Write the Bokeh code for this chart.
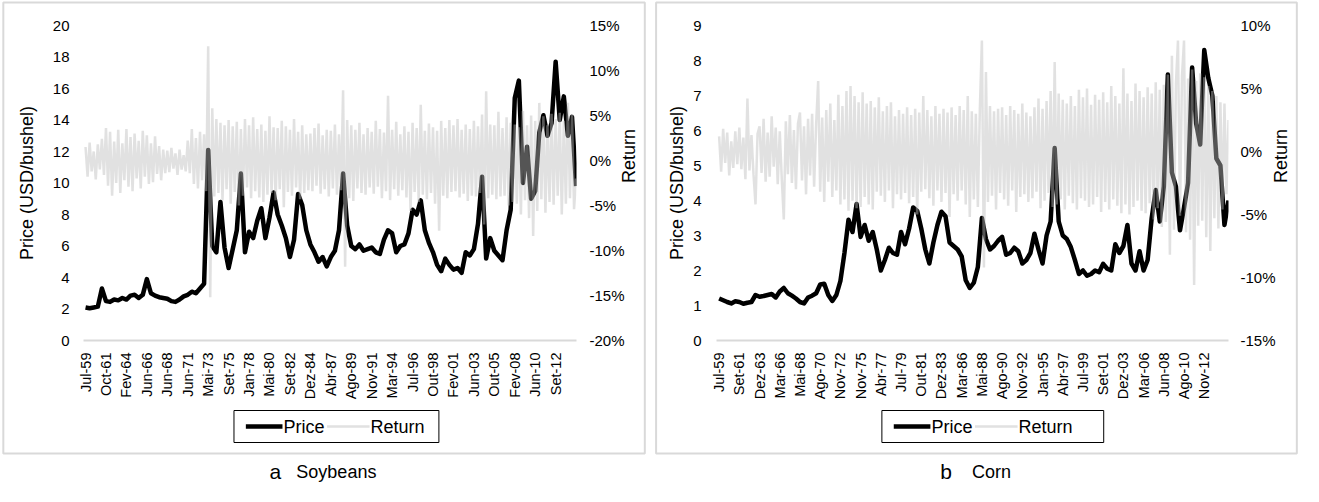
import numpy as np
from bokeh.plotting import figure
from bokeh.models import Range1d, LinearAxis, FixedTicker
from bokeh.core.properties import value
from bokeh.layouts import row
from bokeh.embed import file_html
from bokeh.resources import INLINE

FONT = "Liberation Sans"

# ---------------- data ----------------
soy_labels = ["Jul-59", "Oct-61", "Fev-64", "Jun-66", "Jun-68", "Jun-71", "Mai-73",
              "Set-75", "Jan-78", "Mai-80", "Set-82", "Dez-84", "Abr-87", "Ago-89",
              "Nov-91", "Mar-94", "Jul-96", "Out-98", "Fev-01", "Jun-03", "Out-05",
              "Fev-08", "Jun-10", "Set-12"]
corn_labels = ["Jul-59", "Set-61", "Dez-63", "Mar-66", "Mai-68", "Ago-70", "Nov-72",
               "Nov-75", "Abr-77", "Jul-79", "Out-81", "Dez-83", "Mar-86", "Mai-88",
               "Ago-90", "Nov-92", "Jan-95", "Abr-97", "Jul-99", "Set-01", "Dez-03",
               "Mar-06", "Jun-08", "Ago-10", "Nov-12"]

# price, USD/bushel (5 readings per label interval)
soy_price = [
    2.1, 2.05, 2.1, 2.15, 3.3,
    2.5, 2.45, 2.6, 2.55, 2.7,
    2.6, 2.85, 2.9, 2.7, 2.9,
    3.9, 3.0, 2.85, 2.75, 2.7,
    2.65, 2.5, 2.45, 2.6, 2.8,
    2.9, 3.1, 3.0, 3.3, 3.6,
    12.1, 6.0, 5.6, 8.8, 5.9,
    4.6, 5.8, 7.0, 10.6, 5.6,
    6.9, 6.5, 7.6, 8.4, 6.5,
    7.8, 9.4, 8.0, 7.3, 6.5,
    5.3, 6.4, 9.3, 8.6, 7.0,
    6.1, 5.6, 5.0, 5.3, 4.7,
    5.3, 5.7, 7.0, 10.6, 7.3,
    6.0, 5.8, 6.1, 5.7, 5.8,
    5.9, 5.6, 5.5, 6.4, 7.0,
    6.8, 5.6, 6.0, 6.1, 6.8,
    8.3, 8.0, 8.9, 7.0, 6.2,
    5.6, 4.8, 4.4, 5.2, 4.8,
    4.5, 4.6, 4.3, 5.6, 5.4,
    5.8, 7.4, 10.4, 5.2, 6.5,
    5.7, 5.4, 5.1, 7.0, 8.3,
    15.4, 16.5, 10.0, 12.3, 9.0,
    9.5, 13.2, 14.3, 13.0, 13.8,
    17.7, 14.0, 15.5, 13.0, 14.2,
    9.8,
]
# return, % (10 readings per label interval)
soy_return = [
    1.5, -1.8, 2.0, -1.2, 1.0, -2.1, 1.8, -1.0, 2.4, -1.6,
    3.6, -2.8, 3.2, -3.9, 2.1, -2.5, 3.4, -3.6, 1.9, -2.2,
    3.5, -2.9, 2.6, -3.4, 3.0, -2.0, 2.2, -3.1, 3.3, -1.8,
    2.8, -2.6, 1.9, -2.4, 2.7, -1.5, 1.6, -2.2, 1.2, -1.4,
    1.1, -1.3, 1.4, -0.9, 0.8, -1.6, 1.2, -1.0, 0.6, -1.2,
    2.2, -1.4, 3.5, -2.6, 2.5, -3.1, 3.2, -2.2, 2.9, -3.4,
    12.7, -15.2, 5.8, -4.0, 4.6, -3.6, 4.2, -4.4, 3.9, -3.2,
    4.5, -4.8, 3.8, -3.5, 4.3, -5.0, 3.5, -3.9, 4.6, -3.0,
    3.9, -4.2, 4.8, -3.4, 3.5, -4.1, 4.0, -4.6, 3.3, -3.8,
    4.9, -3.6, 3.7, -4.4, 3.6, -3.2, 4.4, -5.2, 3.8, -3.5,
    3.4, -3.9, 4.6, -3.0, 3.2, -4.3, 3.9, -3.6, 2.9, -3.3,
    3.0, -3.4, 3.6, -2.8, 4.1, -3.7, 2.8, -3.2, 3.4, -4.0,
    3.3, -3.1, 4.0, -3.8, 2.9, -3.3, 7.8, -11.8, 4.5, -4.2,
    3.9, -4.5, 3.4, -3.1, 4.2, -3.6, 2.9, -3.8, 3.6, -3.0,
    3.2, -3.7, 4.4, -2.9, 3.5, -4.2, 3.1, -3.4, 7.2, -4.4,
    3.4, -3.2, 4.3, -3.9, 2.9, -3.3, 3.8, -4.1, 3.2, -5.6,
    4.2, -3.5, 3.6, -4.6, 6.2, -3.8, 3.3, -4.3, 4.1, -3.6,
    3.7, -4.8, 3.3, -7.8, 4.4, -3.9, 3.6, -4.2, 4.5, -3.5,
    3.9, -3.4, 4.6, -4.1, 3.4, -3.7, 4.0, -4.5, 3.5, -3.9,
    4.4, -4.0, 3.8, -3.6, 5.1, -7.1, 7.7, -4.2, 4.0, -3.8,
    3.9, -4.3, 5.4, -4.0, 3.6, -3.9, 4.8, -5.0, 4.2, -4.6,
    4.0, -4.8, 3.7, -6.0, 5.5, -4.4, 3.9, -6.4, 5.0, -8.4,
    4.4, -5.6, 6.4, -4.3, 4.9, -5.8, 3.9, -4.6, 5.2, -4.9,
    4.6, -3.9, 5.3, -6.0, 4.4, -4.8, 6.4, -4.2, 5.1, -5.4,
    -2.0,
]
corn_price = [
    1.2, 1.15, 1.1, 1.06, 1.12,
    1.1, 1.05, 1.08, 1.1, 1.3,
    1.25, 1.27, 1.3, 1.33, 1.23,
    1.4, 1.5, 1.35, 1.28, 1.2,
    1.1, 1.06, 1.23, 1.28, 1.35,
    1.6, 1.62, 1.3, 1.13, 1.3,
    1.7, 2.5, 3.45, 3.1, 3.9,
    2.96, 3.3, 2.85, 3.1, 2.6,
    2.0, 2.3, 2.65, 2.5, 2.45,
    3.1, 2.75, 3.2, 3.8, 3.7,
    3.2, 2.6, 2.2, 2.8, 3.3,
    3.68, 3.55, 2.8, 2.7, 2.6,
    2.4, 1.72, 1.5, 1.65, 2.1,
    3.5, 2.9, 2.6, 2.7, 2.85,
    2.96, 2.45, 2.5, 2.65, 2.55,
    2.2, 2.3, 2.5, 3.05, 2.6,
    2.2, 3.0, 3.4, 5.5, 3.4,
    3.0, 2.9, 2.67, 2.3, 1.9,
    2.0, 1.85, 1.9, 2.0, 1.95,
    2.19, 2.05, 2.0, 2.75, 2.5,
    2.7, 3.3, 2.2, 2.0, 2.55,
    2.0, 2.3, 3.5, 4.3, 3.4,
    4.4, 7.6, 4.8, 4.4, 3.15,
    3.8, 4.5, 7.8, 6.2, 5.6,
    8.3, 7.5, 7.0, 5.2, 5.0,
    3.3, 4.0,
]
corn_return = [
    1.2, -1.6, 1.8, -0.9, 1.5, -1.9, 0.8, -1.3, 1.6, -1.0,
    1.9, -1.4, 1.1, -2.2, 4.2, -1.5, 1.3, -1.8, -4.2, 1.4,
    2.0, -1.7, 2.6, -2.4, 1.5, -2.0, 2.8, -1.2, 1.9, -2.6,
    1.6, -2.2, -5.4, 2.4, -1.8, 2.9, -2.5, 1.7, -3.0, 2.2,
    3.1, -2.3, 2.0, -3.4, 2.6, -1.9, 3.0, -2.8, 2.2, 5.6,
    -3.2, 2.7, -4.0, 3.3, -2.4, 3.8, -3.6, 2.5, -3.1, 4.5,
    -4.2, 3.6, -3.8, 4.8, -4.7, 5.2, -3.9, 4.4, -4.5, 3.9,
    -4.4, 4.7, -3.6, 3.8, -4.2, 4.0, -4.6, 3.5, -3.2, 4.3,
    -3.5, 3.2, -4.0, 3.6, -3.1, 3.9, -4.5, 2.8, -3.4, 3.3,
    -3.8, 3.0, -3.3, 3.5, -4.1, 2.9, -3.6, 3.4, -5.0, 3.1,
    -3.2, 4.4, -3.0, 3.3, -3.7, 2.8, -4.3, 3.6, -3.1, 3.0,
    -4.0, 3.4, -3.3, 3.1, -5.2, 3.5, -3.4, 2.9, -3.9, 3.6,
    -3.1, 3.3, -4.2, 4.4, -5.2, 3.2, -3.8, 3.0, -4.4, 3.4,
    8.8, -9.2, 6.3, -4.0, 3.6, -3.5, 3.2, -4.6, 3.4, -3.3,
    3.5, -3.8, 2.9, -4.3, 3.6, -3.1, 3.3, -4.8, 3.0, -3.6,
    3.8, -3.4, 3.1, -4.0, 2.8, -3.7, 3.5, -3.2, 4.2, -4.5,
    3.4, -3.9, 4.0, -3.3, 4.8, -4.4, 7.1, -4.2, 4.6, -3.8,
    4.1, -4.6, 3.8, -3.5, 4.4, -4.1, 3.6, -4.6, 4.9, -3.7,
    4.3, -3.9, 5.0, -4.4, 3.7, -4.2, 4.5, -3.6, 4.1, -4.8,
    4.7, -4.0, 3.9, -4.6, 5.2, -3.8, 4.4, -4.3, 3.8, -4.9,
    6.6, -4.2, 4.6, -5.0, 4.0, -4.4, 5.4, -3.9, 4.8, -4.7,
    4.3, -4.9, 5.1, -4.1, 4.6, -5.4, 5.5, -4.5, 4.9, -6.0,
    5.3, -5.6, 6.1, -8.2, 7.6, -6.2, 5.4, 8.8, -5.1, 6.0,
    8.8, -6.4, 5.8, -7.0, 6.5, -10.6, 5.6, -5.9, 6.2, -5.5,
    5.9, -6.8, 5.2, -7.9, 4.8, -5.3, 4.4, -6.1, 3.9, -4.6,
    3.8, -3.4, 2.5,
]

W, H = 651, 486
FT, FB = 25, 340            # frame top / bottom in canvas pixels
BOX_TOP, BOX_BOTTOM = 2, 453
CAP_BASE = 471

PRICE_STYLE = dict(line_color="black", line_width=4.5, line_join="round")
RET_STYLE = dict(line_color="#bcbcbc", line_alpha=0.45, line_width=2.5)


def style_axis(ax, size):
    ax.major_label_text_font = FONT
    ax.major_label_text_font_size = size
    ax.major_label_text_color = "black"
    ax.major_tick_line_color = None
    ax.minor_tick_line_color = None
    ax.major_tick_out = 0
    ax.major_tick_in = 0
    ax.minor_tick_out = 0
    ax.minor_tick_in = 0


def style_title(ax, text, standoff):
    ax.axis_label = text
    ax.axis_label_text_font = FONT
    ax.axis_label_text_font_size = "18px"
    ax.axis_label_text_font_style = "normal"
    ax.axis_label_text_color = "black"
    ax.axis_label_standoff = standoff


def make_panel(labels, price, ret, pmax, pstep, rmin, rmax, x_range, fl, frame_w,
               lstand, ltitle, rstand, rtitle, box_x, letter, caption, cap_x, word_x,
               leg_box):
    fr = W - fl - frame_w
    x0, x1 = x_range
    p = figure(width=W, height=H, x_range=Range1d(x0, x1), y_range=Range1d(0, pmax),
               output_backend="svg", toolbar_location=None,
               min_border_left=fl, min_border_right=fr, min_border_top=FT,
               min_border_bottom=H - FB, background_fill_color="white",
               border_fill_color="white", outline_line_color=None)
    p.xgrid.visible = False
    p.ygrid.visible = False
    p.extra_y_ranges = {"ret": Range1d(rmin, rmax)}

    # canvas pixel -> data coordinate (for decorations outside the frame)
    def cx(px):
        return x0 + (px - fl) * (x1 - x0) / frame_w

    def cy(py):
        return (FB - py) * pmax / (FB - FT)

    # ---- data ----
    xp = np.arange(len(price)) * 0.2
    xr = np.arange(len(ret)) * 0.1
    p.line(xp, price, **PRICE_STYLE)
    p.line(xr, ret, y_range_name="ret", **RET_STYLE)

    # ---- axes ----
    xa = p.xaxis[0]
    xa.ticker = FixedTicker(ticks=list(range(len(labels))))
    xa.major_label_overrides = {i: s for i, s in enumerate(labels)}
    xa.major_label_orientation = np.pi / 2
    style_axis(xa, "14.5px")
    xa.major_label_standoff = 12
    xa.axis_line_color = "#d9d9d9"
    xa.axis_line_width = 2

    ya = p.yaxis[0]
    ya.ticker = FixedTicker(ticks=list(np.arange(0, pmax + 0.001, pstep)))
    style_axis(ya, "15px")
    ya.major_label_standoff = lstand
    ya.axis_line_color = None
    style_title(ya, "Price (USD/bushel)", ltitle)

    rticks = list(range(rmin, rmax + 1, 5))
    ra = LinearAxis(y_range_name="ret", ticker=FixedTicker(ticks=rticks),
                    major_label_overrides={t: f"{t}%" for t in rticks})
    style_axis(ra, "15px")
    ra.major_label_standoff = rstand
    ra.axis_line_color = None
    style_title(ra, "Return", rtitle)
    if "axis_label_orientation" in ra.properties():
        ra.axis_label_orientation = np.pi / 2
    p.add_layout(ra, "right")

    # ---- outer grey box (overlay level, drawn outside the frame) ----
    bx0, bx1 = box_x
    p.quad(left=[cx(bx0)], right=[cx(bx1)], top=[cy(BOX_TOP)], bottom=[cy(BOX_BOTTOM)],
           fill_color=None, line_color="#d9d9d9", line_width=2, level="overlay")

    # ---- legend ----
    lx0, lx1, ly0, ly1 = leg_box
    ymid = (ly0 + ly1) / 2
    p.quad(left=[cx(lx0)], right=[cx(lx1)], top=[cy(ly0)], bottom=[cy(ly1)],
           fill_color="white", line_color="black", line_width=1, level="overlay")
    p.line([cx(lx0 + 12), cx(lx0 + 49)], [cy(ymid), cy(ymid)], level="overlay",
           **PRICE_STYLE)
    p.line([cx(lx0 + 94), cx(lx0 + 137)], [cy(ymid), cy(ymid)], level="overlay",
           **RET_STYLE)
    p.text(x=[cx(lx0 + 50), cx(lx0 + 138)], y=[cy(ymid), cy(ymid)],
           text=["Price", "Return"], text_align="left", text_baseline="middle",
           text_font=value(FONT), text_font_size=value("18px"), text_color="black",
           level="overlay")

    # ---- caption ----
    p.text(x=[cx(cap_x)], y=[cy(CAP_BASE)], text=[letter], text_align="left",
           text_baseline="alphabetic", text_font=value(FONT),
           text_font_size=value("21px"), text_color="black", level="overlay")
    p.text(x=[cx(word_x)], y=[cy(CAP_BASE)], text=[caption], text_align="left",
           text_baseline="alphabetic", text_font=value(FONT),
           text_font_size=value("18px"), text_color="black", level="overlay")
    return p


p1 = make_panel(soy_labels, soy_price, soy_return, 20, 2, -20, 15, (-0.1, 24.02),
                83, 498, 14, 13, 13, 1, (2, 650), "a", "Soybeans", 271, 298,
                (235, 442, 410, 442))
p2 = make_panel(corn_labels, corn_price, corn_return, 9, 1, -15, 10, (-0.13, 25.2),
                64, 517, 15, 3, 12, 2, (3, 650), "b", "Corn", 290, 322,
                (231, 455, 410, 442))

layout = row(p1, p2, spacing=1)
open("out.html", "w").write(file_html(layout, INLINE))
